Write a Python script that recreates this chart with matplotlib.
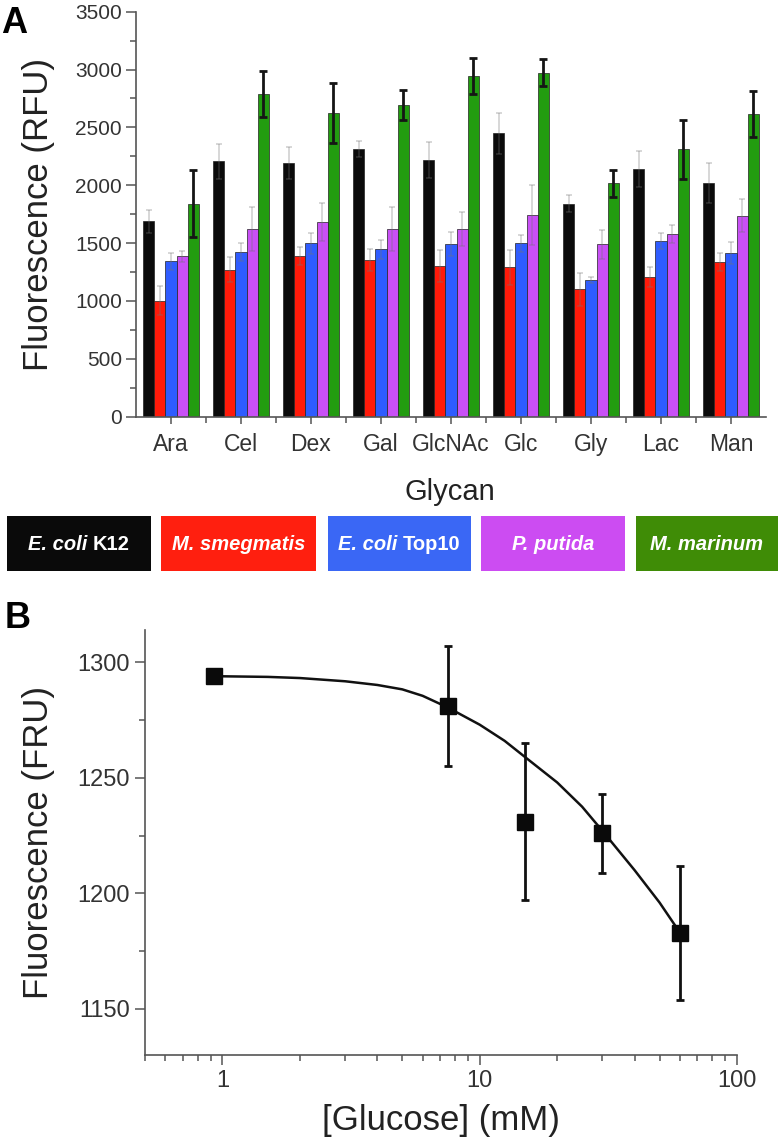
import numpy as np
import matplotlib
matplotlib.use("Agg")
import matplotlib.pyplot as plt
from matplotlib.patches import Rectangle
from matplotlib.offsetbox import TextArea, HPacker, AnnotationBbox
from matplotlib.ticker import MultipleLocator, FixedLocator, LogLocator, NullFormatter, FixedFormatter

plt.rcParams['font.family'] = ['Liberation Sans', 'DejaVu Sans']

# ---- panel A data ----
glycans = ["Ara", "Cel", "Dex", "Gal", "GlcNAc", "Glc", "Gly", "Lac", "Man"]

ecoli_k12 = [1690, 2206, 2195, 2313, 2218, 2448, 1840, 2140, 2022]
ecoli_k12_err = [100, 150, 140, 72, 158, 179, 75, 158, 173]
m_smeg = [1002, 1270, 1391, 1351, 1302, 1290, 1100, 1210, 1333]
m_smeg_err = [125, 110, 78, 95, 138, 150, 144, 86, 78]
ecoli_top10 = [1342, 1420, 1498, 1446, 1492, 1498, 1181, 1521, 1411]
ecoli_top10_err = [75, 78, 92, 80, 106, 72, 29, 69, 95]
p_putida = [1385, 1619, 1685, 1619, 1621, 1742, 1489, 1575, 1737]
p_putida_err = [50, 190, 164, 190, 150, 257, 124, 78, 141]
m_marinum = [1840, 2788, 2621, 2693, 2943, 2972, 2016, 2310, 2615]
m_marinum_err = [290, 200, 260, 130, 153, 115, 115, 253, 202]

# legend: (italic part, upright part)
strain_names = [("E. coli ", "K12"), ("M. smegmatis", ""), ("E. coli ", "Top10"),
                ("P. putida", ""), ("M. marinum", "")]

# ---- panel B data ----
glucose_mM = [0.93, 7.5, 15, 30, 60]
fluor = [1294, 1281, 1231, 1226, 1183]
fluor_err = [0, 26, 34, 17, 29]
fit_x = [0.93, 1.5, 2, 3, 4, 5, 6, 7.5, 10, 12.5, 15, 20, 25, 30, 40, 50, 60]
fit_y = [1294, 1293.7, 1293.2, 1291.8, 1290.2, 1288.3, 1285.5, 1280.5, 1273, 1266, 1259,
         1248, 1237.5, 1227, 1210, 1196, 1183]

bar_colors = ['#0b0b0b', '#ff1a0a', '#2f5cff', '#c850f5', '#229c10']
box_colors = ['#0a0a0a', '#ff1f0f', '#3a67f5', '#cc4cf2', '#3f8c06']

W, H = 780, 1137
fig = plt.figure(figsize=(W / 100, H / 100), dpi=100)

spine_col = '#555555'
tick_txt = '#333333'

def style_axes(ax):
    for s in ['top', 'right']:
        ax.spines[s].set_visible(False)
    for s in ['left', 'bottom']:
        ax.spines[s].set_color(spine_col)
        ax.spines[s].set_linewidth(1.2)
    ax.tick_params(which='both', direction='out', color=spine_col, width=1.1)

# ---------------- panel A ----------------
ax1 = fig.add_axes([136 / W, 1 - 416.7 / H, 630 / W, 405 / H])
x = np.arange(len(glycans))
width = 0.16
series = [(ecoli_k12, ecoli_k12_err), (m_smeg, m_smeg_err), (ecoli_top10, ecoli_top10_err),
          (p_putida, p_putida_err), (m_marinum, m_marinum_err)]
for i, (vals, errs) in enumerate(series):
    pos = x + (i - 2) * width
    ax1.bar(pos, vals, width, color=bar_colors[i], edgecolor='#222222', linewidth=0.5, zorder=2)
    if i < 4:
        ax1.errorbar(pos, vals, yerr=errs, fmt='none', ecolor=(0.45, 0.45, 0.45, 0.3),
                     elinewidth=1.3, capsize=2.5, capthick=1.3, zorder=3)
    else:
        ax1.errorbar(pos, vals, yerr=errs, fmt='none', ecolor='#151515',
                     elinewidth=2.0, capsize=3.2, capthick=2.0, zorder=3)

ax1.set_xlim(-0.5, 8.5)
ax1.set_ylim(0, 3500)
style_axes(ax1)
ax1.set_xticks(x)
ax1.set_xticklabels(glycans)
ax1.xaxis.set_minor_locator(FixedLocator(x[:-1] + 0.5))
ax1.yaxis.set_major_locator(MultipleLocator(500))
ax1.yaxis.set_minor_locator(MultipleLocator(250))
ax1.tick_params(axis='x', which='major', length=5, labelsize=16.5, pad=7, labelcolor=tick_txt)
ax1.tick_params(axis='x', which='minor', length=4)
ax1.tick_params(axis='y', which='major', length=7, labelsize=15, pad=3, labelcolor=tick_txt)
ax1.tick_params(axis='y', which='minor', length=4)
ax1.set_ylabel("Fluorescence (RFU)", fontsize=25, color='#222222')
ax1.yaxis.set_label_coords(-0.128, 0.5)
ax1.set_xlabel("Glycan", fontsize=21, color='#222222')
ax1.xaxis.set_label_coords(0.498, -0.152)

# ---------------- legend strip ----------------
lax = fig.add_axes([0, 0, 1, 1])
lax.set_xlim(0, W)
lax.set_ylim(H, 0)
lax.axis('off')
box_x = [(7, 151), (161, 316), (328, 471), (481, 625), (636, 778)]
for (x0, x1), col, (it, up) in zip(box_x, box_colors, strain_names):
    lax.add_patch(Rectangle((x0, 516), x1 - x0, 55, facecolor=col, edgecolor='none'))
    parts = [TextArea(it, textprops=dict(color='white', fontsize=14.5, weight='bold', style='italic'))]
    if up:
        parts.append(TextArea(up, textprops=dict(color='white', fontsize=14.5, weight='bold')))
    pack = HPacker(children=parts, pad=0, sep=0, align='baseline')
    ab = AnnotationBbox(pack, ((x0 + x1) / 2, 545), xycoords='data', frameon=False,
                        box_alignment=(0.5, 0.5))
    lax.add_artist(ab)

# ---------------- panel B ----------------
ax2 = fig.add_axes([145 / W, 1 - 1055 / H, 592 / W, 425 / H])
ax2.set_xscale('log')
ax2.plot(fit_x, fit_y, color='#111111', lw=1.8, zorder=2)
ax2.errorbar(glucose_mM, fluor, yerr=fluor_err, fmt='s', ms=12, color='#0a0a0a',
             ecolor='#111111', elinewidth=2.0, capsize=3, capthick=2.0, zorder=3)
ax2.set_xlim(0.5, 100)
ax2.set_ylim(1130, 1314)
style_axes(ax2)
ax2.xaxis.set_major_locator(FixedLocator([1, 10, 100]))
ax2.xaxis.set_major_formatter(FixedFormatter(["1", "10", "100"]))
ax2.xaxis.set_minor_locator(LogLocator(base=10, subs=np.arange(2, 10)))
ax2.xaxis.set_minor_formatter(NullFormatter())
ax2.yaxis.set_major_locator(MultipleLocator(50))
ax2.yaxis.set_minor_locator(MultipleLocator(25))
ax2.tick_params(axis='both', which='major', length=7, labelsize=17, pad=4, labelcolor=tick_txt)
ax2.tick_params(axis='both', which='minor', length=4)
ax2.set_ylabel("Fluorescence (FRU)", fontsize=25, color='#222222')
ax2.yaxis.set_label_coords(-0.152, 0.5)
ax2.set_xlabel("[Glucose] (mM)", fontsize=25, color='#222222')
ax2.xaxis.set_label_coords(0.5, -0.115)

# panel letters
fig.text(1 / W, 1 - 33 / H, "A", fontsize=26, weight='bold', va='baseline', ha='left')
fig.text(5 / W, 1 - 628 / H, "B", fontsize=26, weight='bold', va='baseline', ha='left')

fig.savefig("out.png", dpi=100)
